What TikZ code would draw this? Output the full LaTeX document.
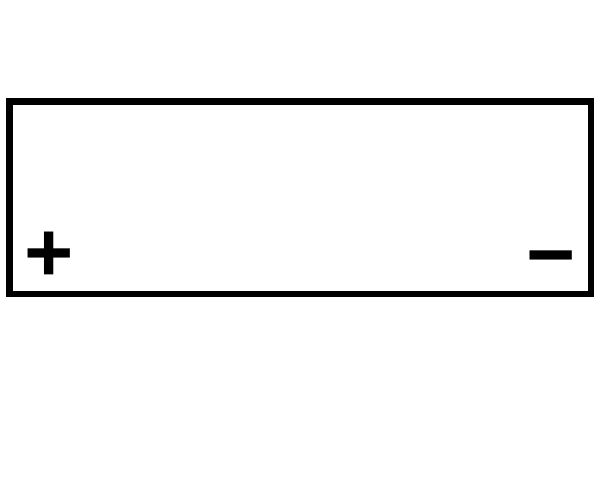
\documentclass[tikz,border=0pt]{standalone}
\usepackage{fontspec}
\setmainfont{Liberation Sans}
\usetikzlibrary{positioning}

\tikzset{
  cellbox/.style = {draw = black, line width = 0.13cm, minimum width = 11.63cm, minimum height = 3.85cm, inner sep = 0pt},
  pole/.style = {inner sep = 0pt, font = \fontsize{48}{48}\selectfont\bfseries}
}

\begin{document}
\begin{tikzpicture}
  \useasboundingbox (0, 0) rectangle (12, 9.6);

  % ------------------------
  % battery cell
  % ------------------------

  \node[cellbox] (cell) at (6.005, 5.645) {};

  \node[pole] (plus) at (0.98, 4.46) {+};
  \node[pole] (minus) at (11.03, 4.26) {−};
\end{tikzpicture}
\end{document}
